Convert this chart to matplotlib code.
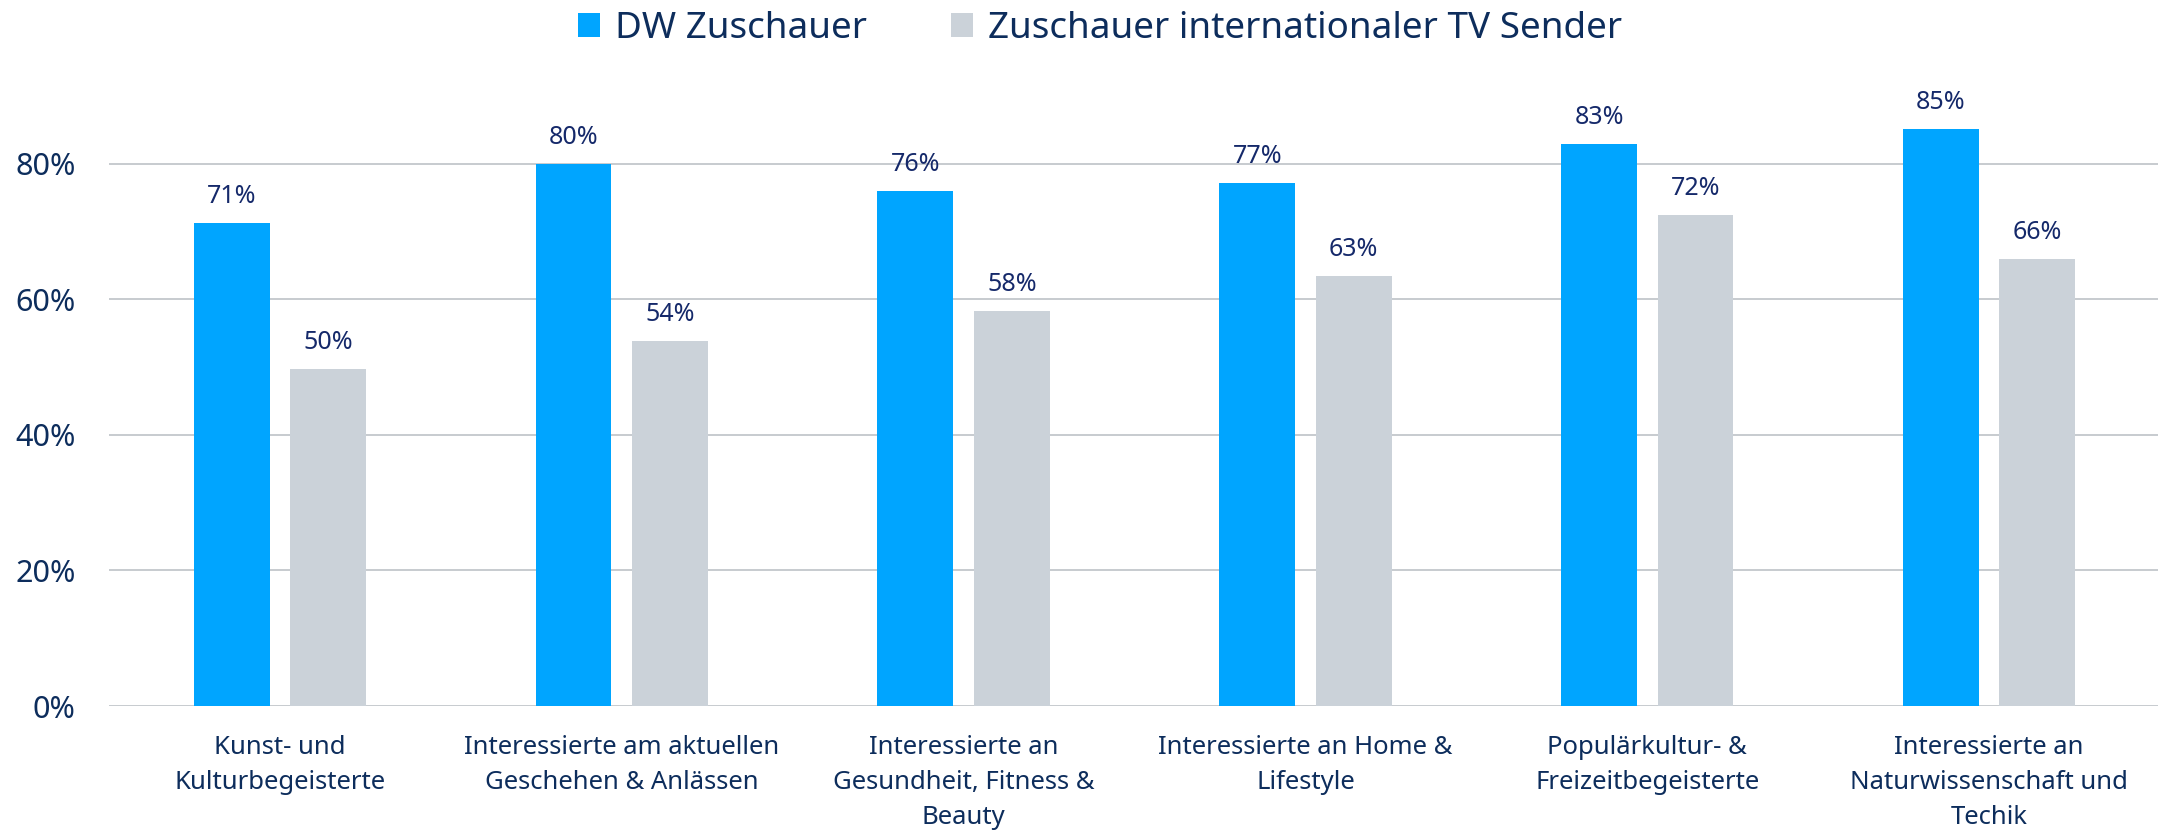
import numpy as np
import matplotlib
matplotlib.use("Agg")
import matplotlib.pyplot as plt
from matplotlib.patches import Patch

plt.rcParams['font.family'] = ['Noto Sans', 'DejaVu Sans']

kategorien = [
    "Kunst- und\nKulturbegeisterte",
    "Interessierte am aktuellen\nGeschehen & Anlässen",
    "Interessierte an\nGesundheit, Fitness &\nBeauty",
    "Interessierte an Home &\nLifestyle",
    "Populärkultur- &\nFreizeitbegeisterte",
    "Interessierte an\nNaturwissenschaft und\nTechik",
]
dw_zuschauer = [0.713, 0.800, 0.760, 0.772, 0.829, 0.851]
intl_zuschauer = [0.497, 0.538, 0.583, 0.634, 0.724, 0.660]
serien = ["DW Zuschauer", "Zuschauer internationaler TV Sender"]
y_ticks = [0, 0.2, 0.4, 0.6, 0.8]

farbe_dw = "#00A5FF"
farbe_intl = "#CBD2D9"
text_farbe = "#0D2D5C"
label_farbe = "#15296A"

fig = plt.figure(figsize=(21.58, 8.32), dpi=100)
ax = fig.add_axes([109 / 2158, 126 / 832, 2051 / 2158, 610 / 832])

x = np.arange(len(kategorien))
breite = 0.222
versatz = 0.141
b1 = ax.bar(x - versatz, dw_zuschauer, breite, color=farbe_dw, zorder=3)
b2 = ax.bar(x + versatz, intl_zuschauer, breite, color=farbe_intl, zorder=3)

# Werte über den Balken
for bars, werte in [(b1, dw_zuschauer), (b2, intl_zuschauer)]:
    for b, v in zip(bars, werte):
        ax.annotate(f"{round(v * 100)}%", (b.get_x() + b.get_width() / 2, v),
                    xytext=(0, 10), textcoords="offset points",
                    ha="center", va="bottom", fontsize=18, color=label_farbe)

ax.set_xlim(-0.5, len(kategorien) - 0.5)
ax.set_ylim(0, 0.9)
ax.set_yticks(y_ticks)
ax.set_yticklabels([f"{int(t * 100)}%" for t in y_ticks], fontsize=22, color=text_farbe)
ax.set_xticks(x)
ax.set_xticklabels(kategorien, fontsize=18.5, color=text_farbe, linespacing=1.52)
ax.tick_params(axis="y", length=0, pad=24)
ax.tick_params(axis="x", length=0, pad=21)
ax.grid(axis="y", color="#C3C7CC", linewidth=1.3, zorder=0)
for s in ax.spines.values():
    s.set_visible(False)

handles = [Patch(facecolor=farbe_dw), Patch(facecolor=farbe_intl)]
fig.legend(handles, serien, loc="center", bbox_to_anchor=(1100 / 2158, 1 - 29 / 832),
           ncol=2, frameon=False, fontsize=26.5, labelcolor=text_farbe,
           handlelength=0.6, handleheight=0.6, handletextpad=0.4,
           columnspacing=2.3, borderaxespad=0)

fig.savefig("out.png", dpi=100)
